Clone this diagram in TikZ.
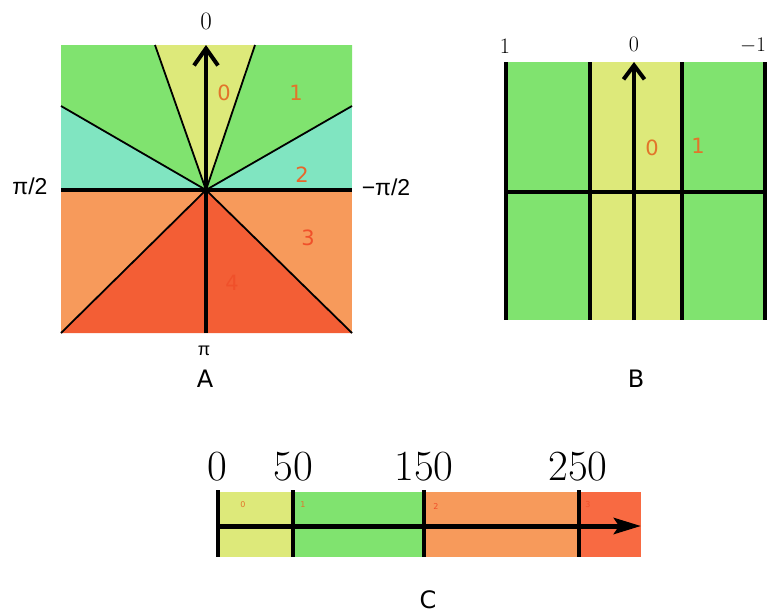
\documentclass[tikz,border=0pt]{standalone}
\usepackage{fontspec}
\usepackage{tikz}
\usetikzlibrary{arrows.meta}
\newfontfamily\labelsans{DejaVu Sans}
\newfontfamily\anglefont{Liberation Sans}
\definecolor{sectyellow}{HTML}{DDE97A}
\definecolor{sectgreen}{HTML}{80E36F}
\definecolor{sectteal}{HTML}{80E5C1}
\definecolor{sectorange}{HTML}{F79A5B}
\definecolor{sectred}{HTML}{F35E35}
\definecolor{barred}{HTML}{F86A42}
\definecolor{numorange}{HTML}{E2742A}
\definecolor{numred}{HTML}{F0502A}

\begin{document}
\begin{tikzpicture}[x=1pt,y=-1pt,
ray/.style={line width=1.8pt},
axis/.style={line width=4pt},
barb/.style={-{Straight Barb[length=17pt,width=24pt]}},
sect/.style={font=\labelsans\fontsize{21}{21}\selectfont},
small/.style={font=\labelsans\fontsize{8}{8}\selectfont},
tick/.style={font=\fontsize{25}{25}\selectfont},
angle/.style={font=\anglefont\fontsize{23}{23}\selectfont},
big/.style={font=\fontsize{43}{43}\selectfont},
panel/.style={font=\labelsans\fontsize{24}{24}\selectfont}]
\useasboundingbox (0,0) rectangle (767,613);

% panel A
\coordinate (oA) at (206,190);
\fill[sectteal] (61,45) rectangle (352,190);
\fill[sectgreen] (oA) -- (61,106) -- (61,45) -- (352,45) -- (352,106) -- cycle;
\fill[sectyellow] (oA) -- (155,45) -- (255,45) -- cycle;
\fill[sectorange] (61,190) rectangle (352,333);
\fill[sectred] (oA) -- (61,333) -- (352,333) -- cycle;
\foreach \p in {(155,45),(255,45),(61,106),(352,106),(61,333),(352,333)}
  \draw[ray] (oA) -- \p;
\draw[axis] (61,190) -- (352,190);
\draw[axis,barb] (206,333) -- (206,45);
\node[tick] (a0) at (206,21) {0};
\node[angle] (ahalf) at (30,186) {π/2};
\node[angle] (amhalf) at (386,187) {−π/2};
\node[angle,font=\anglefont\fontsize{18}{18}\selectfont] (api) at (204,351) {π};
\node[panel] (capA) at (205,379) {A};
\node[sect,numorange] (s0) at (224,93) {0};
\node[sect,numorange] (s1) at (296,93) {1};
\node[sect,numorange!60!numred] (s2) at (302,175) {2};
\node[sect,numred] (s3) at (308,238) {3};
\node[sect,numred] (s4) at (232,283) {4};

% panel B
\fill[sectgreen] (506,62) rectangle (765,320);
\fill[sectyellow] (590,62) rectangle (682,320);
\foreach \x in {506,590,682,765}
  \draw[line width=3.2pt] (\x,62) -- (\x,320);
\draw[axis] (506,192) -- (765,192);
\draw[axis,-{Straight Barb[length=14pt,width=21pt]}] (634,320) -- (634,62);
\node[tick,font=\fontsize{22}{22}\selectfont] (b1) at (505,46) {1};
\node[tick,font=\fontsize{22}{22}\selectfont] (b0) at (634,44) {0};
\node[tick,font=\fontsize{22}{22}\selectfont,anchor=east,inner sep=1pt] (bm1) at (767,46) {$-1$};
\node[sect,numorange] (t0) at (652,148) {0};
\node[sect,numorange] (t1) at (698,146) {1};
\node[panel] (capB) at (636,379) {B};

% panel C
\fill[sectyellow] (218,492) rectangle (293,557);
\fill[sectgreen] (293,492) rectangle (424,557);
\fill[sectorange] (424,492) rectangle (579,557);
\fill[barred] (579,492) rectangle (641,557);
\foreach \x in {218,293,424,579}
  \draw[line width=3.5pt] (\x,490) -- (\x,557);
\draw[line width=5pt,-{Stealth[length=27pt,width=16pt,inset=5pt]}] (218,526) -- (641,526);
\node[big] (c0) at (217,467) {0};
\node[big] (c50) at (293,467) {50};
\node[big] (c150) at (424,467) {150};
\node[big] (c250) at (578,467) {250};
\node[small,numorange] (u0) at (243,505) {0};
\node[small,numorange] (u1) at (303,505) {1};
\node[small,numred] (u2) at (436,507) {2};
\node[small,numred] (u3) at (588,505) {3};
\node[panel] (capC) at (428,600) {C};
\end{tikzpicture}
\end{document}
